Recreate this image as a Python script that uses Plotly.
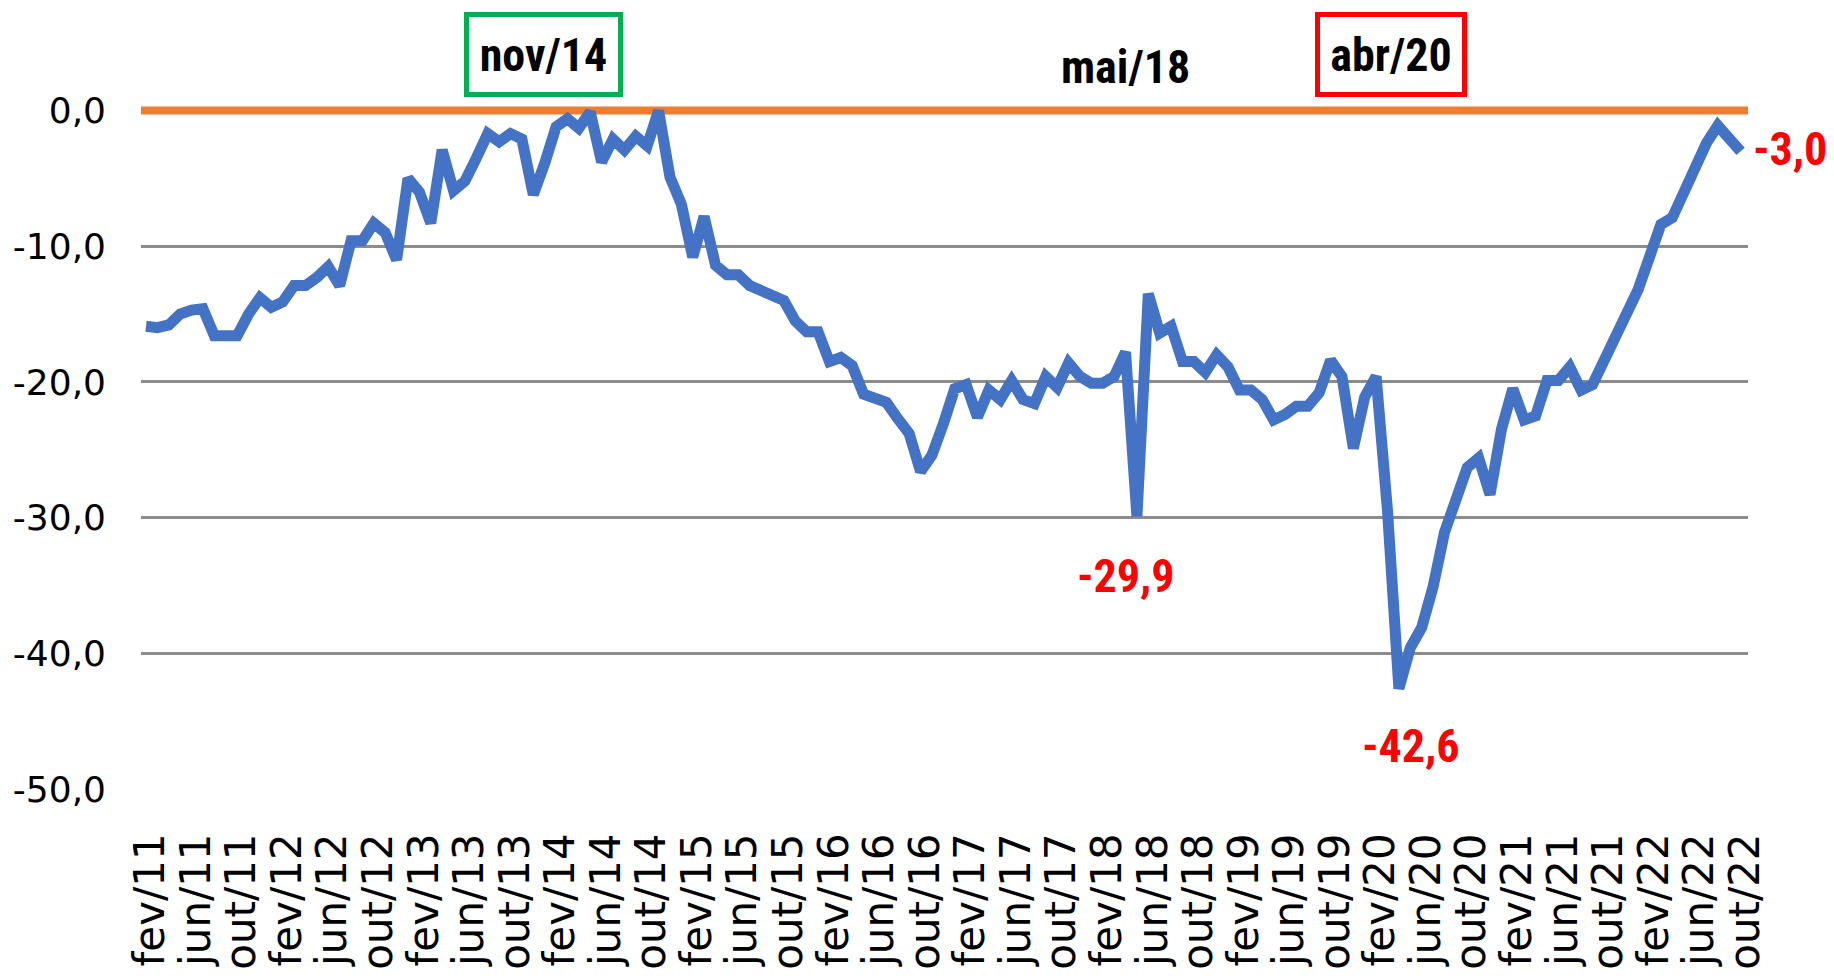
import plotly.graph_objects as go

# ---- data -------------------------------------------------------------
MONTHS = ["jan", "fev", "mar", "abr", "mai", "jun", "jul", "ago", "set", "out", "nov", "dez"]
START_YEAR, START_MONTH = 2011, 2      # fev/11
END_YEAR, END_MONTH = 2022, 10         # out/22

categories = []
y, m = START_YEAR, START_MONTH
while (y, m) <= (END_YEAR, END_MONTH):
    categories.append(f"{MONTHS[m-1]}/{str(y)[2:]}")
    m += 1
    if m > 12:
        m, y = 1, y + 1

values = [
    -15.9, -16.0, -15.8, -15.0, -14.7, -14.6, -16.6, -16.6, -16.6, -15.0,
    -13.8, -14.5, -14.1, -12.9, -12.9, -12.3, -11.5, -12.9, -9.6, -9.6,
    -8.3, -9.0, -11.0, -5.0, -6.0, -8.3, -2.9, -5.9, -5.2, -3.5,
    -1.7, -2.3, -1.7, -2.1, -6.2, -3.9, -1.2, -0.6, -1.3, -0.1,
    -3.8, -2.1, -2.9, -1.9, -2.6, 0.0, -4.9, -6.9, -10.8, -7.8,
    -11.4, -12.1, -12.1, -12.9, -13.2, -13.5, -14.0, -15.5, -16.3, -16.3,
    -18.5, -18.2, -18.8, -20.9, -21.1, -21.5, -22.7, -23.8, -26.6, -25.4,
    -23.1, -20.5, -20.2, -22.6, -20.6, -21.3, -19.9, -21.3, -21.6, -19.6,
    -20.4, -18.6, -19.6, -20.1, -20.1, -19.6, -17.8, -29.9, -13.5, -16.4,
    -15.9, -18.5, -18.5, -19.3, -18.0, -18.9, -20.6, -20.6, -21.3, -22.8,
    -22.4, -21.8, -21.8, -20.8, -18.4, -19.6, -24.9, -21.1, -19.6, -29.5,
    -42.6, -39.6, -38.1, -35.1, -31.1, -28.8, -26.3, -25.6, -28.3, -23.5,
    -20.5, -22.8, -22.5, -19.9, -19.9, -18.9, -20.6, -20.2, -18.4, -16.7,
    -15.2, -13.2, -10.8, -8.4, -7.9, -5.9, -4.0, -2.4, -1.1, -2.1,
    -3.0,
]

reference_level = 0.0
y_ticks = [0, -10, -20, -30, -40, -50]
y_tick_labels = ["0,0", "-10,0", "-20,0", "-30,0", "-40,0", "-50,0"]
tick_step = 4

highlight_labels = ["-29,9", "-42,6", "-3,0"]
top_labels = ["nov/14", "mai/18", "abr/20"]

# ---- figure -----------------------------------------------------------
x_idx = list(range(len(categories)))
tickvals = [v + 0.4 for v in x_idx[::tick_step]]
ticktext = categories[::tick_step]
x_range = [-0.44, 140.65]

fig = go.Figure()

# orange reference line at zero across the plot area
fig.add_trace(go.Scatter(
    x=x_range, y=[reference_level, reference_level],
    mode="lines", line=dict(color="#ED7D31", width=8),
    hoverinfo="skip", showlegend=False,
))

fig.add_trace(go.Scatter(
    x=x_idx, y=values, mode="lines",
    line=dict(color="#4472C4", width=11),
    showlegend=False,
))

BOLD = "Roboto Condensed, Liberation Sans Narrow, Liberation Sans, Arial"
fs_ann = 46

# red value labels
fig.add_annotation(x=86.0, y=-34.3, xref="x", yref="y", text=f"<b>{highlight_labels[0]}</b>",
                   showarrow=False, xanchor="center", yanchor="middle",
                   font=dict(family=BOLD, size=fs_ann, color="#FF0000"))
fig.add_annotation(x=111.1, y=-46.8, xref="x", yref="y", text=f"<b>{highlight_labels[1]}</b>",
                   showarrow=False, xanchor="center", yanchor="middle",
                   font=dict(family=BOLD, size=fs_ann, color="#FF0000"))
fig.add_annotation(x=1.026, y=0.9245, xref="paper", yref="paper", text=f"<b>{highlight_labels[2]}</b>",
                   showarrow=False, xanchor="center", yanchor="middle",
                   font=dict(family=BOLD, size=fs_ann, color="#FF0000"))

# top month labels
fig.add_annotation(x=34.9, y=1.061, xref="x", yref="paper", text=f"<b>{top_labels[0]}</b>",
                   showarrow=False, xanchor="center", yanchor="middle",
                   font=dict(family=BOLD, size=fs_ann, color="#000000"),
                   bordercolor="#00B050", borderwidth=5, borderpad=0, width=149, height=75,
                   bgcolor="white")
fig.add_annotation(x=86.0, y=1.043, xref="x", yref="paper", text=f"<b>{top_labels[1]}</b>",
                   showarrow=False, xanchor="center", yanchor="middle",
                   font=dict(family=BOLD, size=fs_ann, color="#000000"))
fig.add_annotation(x=109.3, y=1.061, xref="x", yref="paper", text=f"<b>{top_labels[2]}</b>",
                   showarrow=False, xanchor="center", yanchor="middle",
                   font=dict(family=BOLD, size=fs_ann, color="#000000"),
                   bordercolor="#FF0000", borderwidth=5, borderpad=0, width=142, height=75,
                   bgcolor="white")

# the page body adds an 8 px offset; margins are set so that the plot lands in place
fig.update_layout(
    width=1834, height=979,
    margin=dict(l=133, r=94, t=89, b=198, autoexpand=False),
    paper_bgcolor="white", plot_bgcolor="white",
    showlegend=False,
)
fig.update_xaxes(
    range=x_range, tickmode="array", tickvals=tickvals, ticktext=ticktext,
    tickangle=-90, showgrid=False, zeroline=False, showline=False, ticks="",
    tickfont=dict(family="DejaVu Sans", size=42, color="#000000"),
    ticklabelstandoff=35, automargin=False,
)
fig.update_yaxes(
    range=[-50, 1.0], tickmode="array", tickvals=y_ticks, ticktext=y_tick_labels,
    showgrid=True, gridcolor="#8C8C8C", gridwidth=3, zeroline=False, showline=False, ticks="",
    tickfont=dict(family="DejaVu Sans", size=36, color="#000000"),
    ticklabelstandoff=34, automargin=False,
)

fig.write_html("out.html")
